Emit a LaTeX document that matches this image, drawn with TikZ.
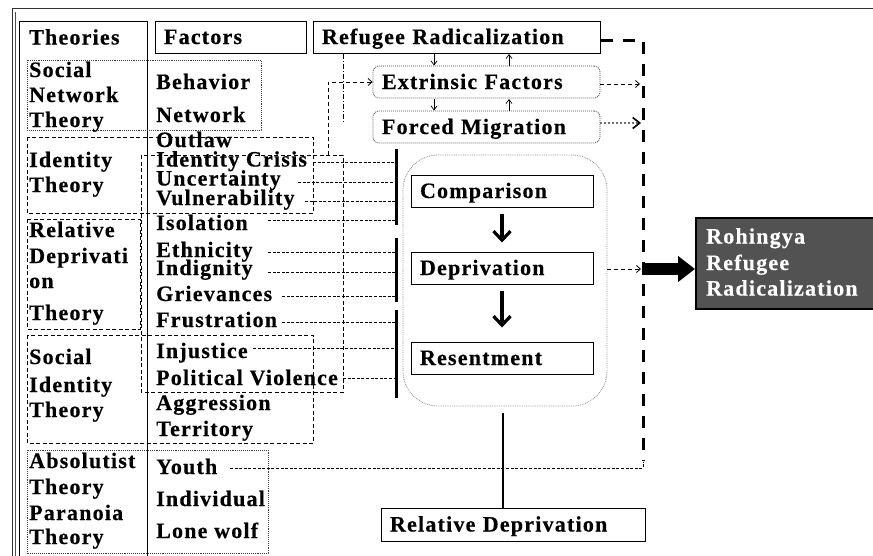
\documentclass[tikz,border=0pt]{standalone}
\usepackage{fontspec}
\usetikzlibrary{arrows.meta,calc}
\newfontfamily\lab{Liberation Serif Bold}[LetterSpace=5.5,FakeBold=0.4]
\begin{document}
\begin{tikzpicture}[x=1pt,y=-1pt,
  lbl/.style={font=\lab\fontsize{22}{25}\selectfont, inner sep=0pt, anchor=west,
              text height=14pt, text depth=0pt},
  box/.style={lbl, draw, line width=1pt, anchor=center, align=left,
              inner xsep=9pt, inner ysep=0pt, minimum height=32pt},
  softbox/.style={box, draw=black!70, densely dotted, line width=0.8pt, rounded corners=6pt},
  dashbox/.style={line width=0.9pt, dash pattern=on 4pt off 2.5pt},
  dotbox/.style={line width=0.9pt, black!75, densely dotted},
  fline/.style={line width=0.8pt, dash pattern=on 3pt off 1.6pt},
  bar/.style={line width=3pt},
  smallarr/.style={line width=0.7pt, -{Straight Barb[length=4pt,width=6pt]}},
  bigdash/.style={line width=3pt, dash pattern=on 12pt off 10pt},
  flow/.style={line width=3.2pt, -{Straight Barb[length=9pt,width=17pt,line width=3.2pt]}},
]
\useasboundingbox (0,0) rectangle (873,555);

% page frame
\draw[line width=1pt, black!80] (873,8) -- (12,8) -- (12,560);
\draw[line width=0.8pt, black!70] (15,12) -- (15,560);

% theories column and its header
\draw[line width=1pt] (19,21) rectangle (147,570);
\node[lbl] (th) at (29,37.5) {Theories};
\node[box, text width=133pt] (fa) at (230.5,37) {Factors};

% group frames
\draw[dotbox]  (27,60)  rectangle (261,130);
\draw[dashbox] (27,137) rectangle (313,213);
\draw[dashbox] (27,219) rectangle (140,329);
\draw[dashbox] (141,155) rectangle (343,392);
\draw[dashbox] (27,335) rectangle (313,443);
\draw[dotbox]  (27,450) rectangle (268,553);

% theory names
\node[lbl] (sn1) at (29,70)  {Social};
\node[lbl] (sn2) at (29,95)  {Network};
\node[lbl] (sn3) at (29,120) {Theory};
\node[lbl] (it1) at (29,160) {Identity};
\node[lbl] (it2) at (29,185) {Theory};
\node[lbl] (rd1) at (29,230) {Relative};
\node[lbl] (rd2) at (29,256) {Deprivati};
\node[lbl] (rd3) at (29,281) {on};
\node[lbl] (rd4) at (29,313) {Theory};
\node[lbl] (si1) at (29,357) {Social};
\node[lbl] (si2) at (29,385) {Identity};
\node[lbl] (si3) at (29,410) {Theory};
\node[lbl] (ab1) at (29,461) {Absolutist};
\node[lbl] (ab2) at (29,487) {Theory};
\node[lbl] (ab3) at (29,513) {Paranoia};
\node[lbl] (ab4) at (29,537) {Theory};

% factor names
\node[lbl] (f1)  at (156,82)    {Behavior};
\node[lbl] (f2)  at (156,115)   {Network};
\node[lbl] (f3)  at (156,140)   {Outlaw};
\node[lbl] (f4)  at (156,159.5) {Identity Crisis};
\node[lbl] (f5)  at (156,178.5) {Uncertainty};
\node[lbl] (f6)  at (156,198)   {Vulnerability};
\node[lbl] (f7)  at (156,223)   {Isolation};
\node[lbl] (f8)  at (156,250)   {Ethnicity};
\node[lbl] (f9)  at (156,268)   {Indignity};
\node[lbl] (f10) at (156,294)   {Grievances};
\node[lbl] (f11) at (156,320)   {Frustration};
\node[lbl] (f12) at (156,351)   {Injustice};
\node[lbl] (f13) at (156,378)   {Political Violence};
\node[lbl] (f14) at (156,403)   {Aggression};
\node[lbl] (f15) at (156,429)   {Territory};
\node[lbl] (f16) at (156,467)   {Youth};
\node[lbl] (f17) at (156,499)   {Individual};
\node[lbl] (f18) at (156,531)   {Lone wolf};

% upper chain
\node[box, text width=269pt] (rr) at (456.5,37)  {Refugee Radicalization};
\node[softbox, text width=209pt] (ex) at (486.5,82)  {Extrinsic Factors};
\node[softbox, text width=209pt] (fm) at (486.5,127) {Forced Migration};
\draw[smallarr] (434,54) -- (434,65.5);
\draw[smallarr] (509,65.5) -- (509,54);
\draw[smallarr] (434,99) -- (434,110.5);
\draw[smallarr] (509,110.5) -- (509,99);
\draw[line width=0.8pt, dash pattern=on 5pt off 2pt on 1pt off 2pt] (343,54) -- (343,123);
\draw[line width=0.8pt, dash pattern=on 4pt off 3pt, -{Straight Barb[length=4pt,width=7pt]}]
  (328,155) -- (328,82) -- (ex.west);

% relative deprivation process
\node[draw=black!45, densely dotted, line width=0.8pt, rounded corners=35pt,
      minimum width=204pt, minimum height=251pt] (proc) at (505,280.5) {};
\node[box, text width=164pt] (cmp) at (502,191) {Comparison};
\node[box, text width=164pt] (dep) at (502,268) {Deprivation};
\node[box, text width=164pt] (res) at (502,358) {Resentment};
\draw[flow] ($(cmp.south)+(0,6)$) -- ($(dep.north)+(0,-9)$);
\draw[flow] ($(dep.south)+(0,6)$) -- ($(res.north)+(0,-14)$);

% collecting bars
\coordinate (b1t) at (396,149); \coordinate (b1b) at (396,225);
\coordinate (b2t) at (396,238); \coordinate (b2b) at (396,302);
\coordinate (b3t) at (396,310); \coordinate (b3b) at (396,398);
\draw[bar] (b1t) -- (b1b);
\draw[bar] (b2t) -- (b2b);
\draw[bar] (b3t) -- (b3b);
\draw[fline] (313,162.5) -- (313,162.5 -| b1t);
\draw[fline] (298,182)   -- (298,182 -| b1t);
\draw[fline] (305,201)   -- (305,201 -| b1t);
\draw[fline] (268,220)   -- (268,220 -| b1t);
\draw[fline] (268,252.5) -- (268,252.5 -| b2t);
\draw[fline] (268,272)   -- (268,272 -| b2t);
\draw[fline] (282,296.5) -- (282,296.5 -| b2t);
\draw[fline] (282,322.5) -- (282,322.5 -| b3t);
\draw[fline] (253,348)   -- (253,348 -| b3t);
\draw[fline] (343,378.5) -- (343,378.5 -| b3t);

% result
\node[draw, line width=2pt, fill=black!68, minimum width=184pt, minimum height=91pt,
      inner sep=0pt] (out) at (788,263.5) {};
\node[lbl, white] (o1) at (706,236.5) {Rohingya};
\node[lbl, white] (o2) at (706,263)   {Refugee};
\node[lbl, white] (o3) at (706,288.5) {Radicalization};

% right-hand collector
\coordinate (cr) at (643,40);
\coordinate (cb) at (643,468);
\draw[bigdash] (rr.east |- cr) -- (cr) -- ($(cb)+(0,-8)$);
\draw[fline] (230,468) -- (cb) -- ($(cb)+(0,-6)$);
\draw[line width=0.8pt, dash pattern=on 4pt off 3pt, -{Straight Barb[length=4pt,width=7pt]}]
  (ex.east |- 0,84) -- (640,84);
\draw[line width=2pt, black!55, dotted, -{Straight Barb[length=7pt,width=11pt,line width=1.6pt,black]}]
  (fm.east |- 0,123) -- (641,123);
\draw[line width=0.8pt, dash pattern=on 4pt off 3pt, -{Straight Barb[length=4pt,width=7pt]}]
  (proc.east |- 0,269) -- (641,269);
\draw[line width=12pt, -{Triangle[length=17pt,width=25pt]}] (642,269) -- (out.west |- 0,269);

% link down to the process name
\node[box, text width=246pt, minimum height=33pt] (rdl) at (513,524.5) {Relative Deprivation};
\coordinate (pb) at (503,413);
\draw[line width=2.5pt] (pb) -- (pb |- rdl.north);
\end{tikzpicture}
\end{document}
